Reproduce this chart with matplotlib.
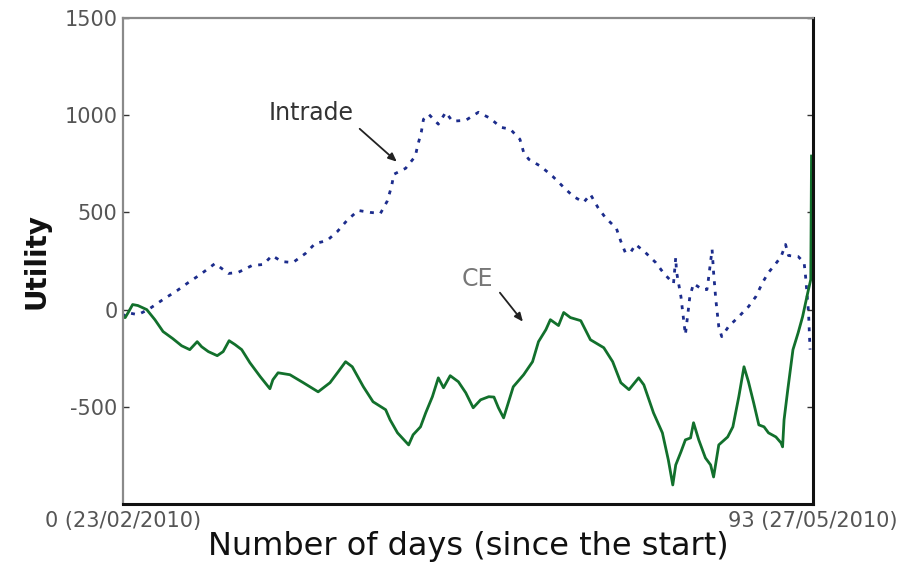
import matplotlib
matplotlib.use("Agg")
import matplotlib.pyplot as plt

# Cumulative utility of the two strategies over the trading period
intrade_days = [0, 0.5, 2, 3.4, 5.4, 7.3, 8.8, 10.4, 12.4, 14.2, 15.5, 17.4, 18.9, 20.1,
                21.4, 22.9, 24.6, 25.9, 27.5, 28.9, 30.2, 31.7, 33.3, 34.7, 35.6, 36.2,
                36.5, 38.1, 39.4, 39.7, 40.2, 40.5, 41.2, 42.5, 43.5, 44.4, 46.2, 47.9,
                49.5, 50.9, 52.2, 53.5, 54.0, 54.7, 56.3, 57.9, 59.4, 60.7, 62.1, 63.0,
                64.0, 65.0, 66.5, 67.1, 67.7, 68.4, 69.1, 70.4, 71.8, 72.9, 74.2, 74.5,
                74.6, 75.2, 75.4, 75.8, 76.2, 76.4, 76.9, 78.1, 78.7, 78.9, 79.4, 79.6,
                79.9, 80.3, 80.7, 81.6, 83.0, 84.3, 85.3, 86.2, 87.0, 87.9, 88.7, 89.3,
                89.7, 91.0, 91.8, 92.0, 92.4, 92.6]
intrade_vals = [-40, -15, -26, 0, 52, 98, 139, 180, 237, 186, 191, 227, 232, 278,
                247, 242, 289, 340, 355, 402, 459, 510, 500, 495, 557, 634,
                696, 727, 789, 842, 912, 979, 1005, 954, 1015, 969, 974, 1015,
                984, 938, 928, 876, 809, 773, 737, 686, 629, 582, 552, 593,
                526, 474, 418, 351, 294, 294, 335, 294, 242, 186, 134, 268,
                196, 67, 0, -129, 0, 67, 134, 103, 103, 155, 309, 191,
                52, -88, -139, -88, -36, 15, 67, 139, 191, 232, 273, 335,
                278, 273, 242, 170, -15, -206]

ce_days = [0, 0.3, 0.7, 1.3, 2, 3.2, 4.3, 5.4, 6.7, 7.9, 9, 10, 10.6, 11.5, 12.7, 13.5,
           14.3, 15.1, 16, 17.1, 18.5, 19.8, 20.2, 20.9, 22.5, 24.3, 26.3, 27.9, 29, 30,
           30.9, 32.4, 33.7, 35.4, 36, 37, 38.5, 39.1, 40.1, 40.8, 41.7, 42.5, 43.2, 44.1,
           45.2, 46.2, 47.2, 48.2, 49.3, 50.0, 50.6, 51.3, 52.6, 54, 55.2, 56, 57, 57.6,
           58.7, 59.4, 60.3, 61.7, 63, 64.8, 66, 67.1, 68.2, 69.5, 70.2, 71.5, 72.7, 73.5,
           74.1, 74.5, 75.2, 75.8, 76.5, 76.9, 77.6, 78.5, 79.2, 79.6, 80.3, 81.5, 82.2,
           83, 83.7, 84.3, 85, 85.7, 86.4, 87, 88, 88.7, 88.9, 89.1, 89.6, 90.3, 91, 91.6,
           92.3, 92.7, 92.8]
ce_vals = [-40, -41, -15, 26, 21, 0, -52, -113, -149, -186, -206, -165, -191, -216, -237, -216,
           -160, -180, -206, -273, -345, -407, -361, -325, -335, -376, -423, -376, -320, -268,
           -294, -397, -474, -515, -567, -634, -696, -644, -603, -531, -448, -351, -402, -340,
           -371, -428, -505, -464, -448, -450, -505, -557, -397, -335, -268, -165, -103, -52,
           -82, -15, -41, -57, -155, -196, -268, -376, -412, -351, -387, -531, -634, -773,
           -902, -799, -732, -670, -660, -582, -670, -763, -799, -861, -696, -655, -603,
           -448, -294, -371, -479, -593, -603, -634, -655, -686, -706, -567, -412, -206, -119, -36,
           88, 155, 790]

y_ticks = [-500, 0, 500, 1000, 1500]
x_ticks = [0, 93]
x_tick_labels = ["0 (23/02/2010)", "93 (27/05/2010)"]

plt.rcParams["font.family"] = ["DejaVu Sans"]
plt.rcParams["axes.unicode_minus"] = False

fig = plt.figure(figsize=(9.06, 5.66), dpi=100)
ax = fig.add_axes([123 / 906, 1 - 504 / 566, 690 / 906, 486 / 566])

ax.plot(intrade_days, intrade_vals, color="#1c2c8c", lw=2.0,
        linestyle=(0, (1.4, 2.4)), dash_capstyle="butt")
ax.plot(ce_days, ce_vals, color="#12702c", lw=2.0)

ax.set_xlim(0, 93)
ax.set_ylim(-1000, 1500)
ax.set_yticks(y_ticks)
ax.set_xticks(x_ticks)
ax.set_xticklabels(x_tick_labels)

ax.tick_params(axis="y", direction="in", length=4, width=1, color="#333",
               labelsize=15, labelcolor="#555", pad=4, right=True)
ax.tick_params(axis="x", direction="in", length=0, labelsize=15,
               labelcolor="#555", pad=5)

for side in ("left", "top"):
    ax.spines[side].set_color("#8a8a8a")
    ax.spines[side].set_linewidth(1.6)
for side in ("right", "bottom"):
    ax.spines[side].set_color("#111")
    ax.spines[side].set_linewidth(2.2)

ax.set_xlabel("Number of days (since the start)", fontsize=23, color="#111", labelpad=0)
ax.set_ylabel("Utility", fontsize=20, fontweight="bold", color="#111", labelpad=10)

# Series labels with pointers
ax.text(25.3, 1012, "Intrade", fontsize=17, color="#333", ha="center", va="center")
ax.annotate("", xy=(36.9, 761), xytext=(31.9, 930),
            arrowprops=dict(arrowstyle="-|>,head_length=0.5,head_width=0.22",
                            color="#222", lw=1.3, shrinkA=0, shrinkB=0))
ax.text(47.7, 159, "CE", fontsize=17, color="#777", ha="center", va="center")
ax.annotate("", xy=(53.9, -62), xytext=(50.8, 87),
            arrowprops=dict(arrowstyle="-|>,head_length=0.5,head_width=0.22",
                            color="#222", lw=1.3, shrinkA=0, shrinkB=0))

fig.savefig("out.png", dpi=100)
